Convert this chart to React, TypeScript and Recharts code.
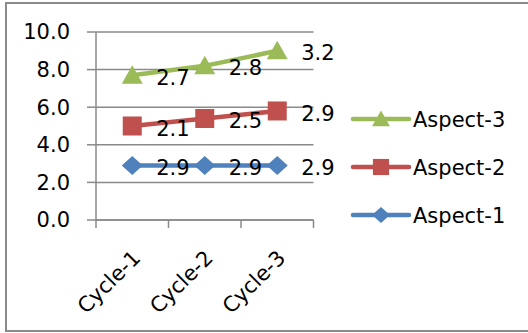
import React from 'react';
import { LineChart, Line, XAxis, YAxis, CartesianGrid, LabelList, Legend } from 'recharts';

// Categories and per-series values (stacked line chart: each series sits on the ones below)
const cycles = ['Cycle-1', 'Cycle-2', 'Cycle-3'];
const aspect1 = [2.9, 2.9, 2.9];
const aspect2 = [2.1, 2.5, 2.9];
const aspect3 = [2.7, 2.8, 3.2];
const yTicks = [0, 2, 4, 6, 8, 10];
const xBoundaryTicks = [0, 1, 2, 3];

const BLUE = '#4F81BD';
const RED = '#C0504D';
const GREEN = '#9BBB59';
const GRID = '#8a8a8a';
const FONT = '"DejaVu Sans", sans-serif';
const FS = 21;

const W = 528;
const H = 333;
const MARGIN = { top: 32, right: 214.5, bottom: 0, left: 0 };
const Y_AXIS_W = 96;
const X_AXIS_H = 113;
const PLOT_W = W - MARGIN.left - MARGIN.right - Y_AXIS_W;
const BAND = PLOT_W / cycles.length;

// running totals for the stacked lines; x sits in the middle of each category band
const data = cycles.map((c, i) => ({
  pos: i + 0.5,
  cycle: c,
  s1: aspect1[i],
  s2: aspect1[i] + aspect2[i],
  s3: aspect1[i] + aspect2[i] + aspect3[i],
}));

type ShapeKind = 'diamond' | 'square' | 'triangle';

function Marker({ kind, cx, cy, color, scale = 1 }: { kind: ShapeKind; cx: number; cy: number; color: string; scale?: number }) {
  if (cx == null || cy == null) return null;
  if (kind === 'diamond') {
    const hw = 10.5 * scale, hh = 9.5 * scale;
    return <polygon points={`${cx},${cy - hh} ${cx + hw},${cy} ${cx},${cy + hh} ${cx - hw},${cy}`} fill={color} />;
  }
  if (kind === 'square') {
    const h = 9.5 * scale;
    return <rect x={cx - h} y={cy - h} width={2 * h} height={2 * h} fill={color} />;
  }
  const hw = 10.5 * scale;
  return <polygon points={`${cx},${cy - 10 * scale} ${cx + hw},${cy + 8.5 * scale} ${cx - hw},${cy + 8.5 * scale}`} fill={color} />;
}

const makeDot = (kind: ShapeKind, color: string) => (props: any) => (
  <Marker key={`${kind}-${props.index}`} kind={kind} cx={props.cx} cy={props.cy} color={color} />
);

// labels show each series' own value, to the right of its point
const makeLabel = (values: number[]) => (props: any) => {
  const { x, y, index } = props;
  return (
    <text
      key={`lbl-${index}`}
      x={x + 24}
      y={y + 2}
      dy="0.36em"
      fontFamily={FONT}
      fontSize={FS}
      fill="#000"
      textAnchor="start"
    >
      {values[index].toFixed(1)}
    </text>
  );
};

const XTick = (props: any) => {
  const { x, y, payload } = props;
  const i = payload.value as number;
  if (i >= cycles.length) return null;
  const cx = x + BAND / 2 + 4;
  const cy = y + 24;
  return (
    <text
      x={cx}
      y={cy}
      dy="0.36em"
      textAnchor="end"
      transform={`rotate(-45, ${cx}, ${cy})`}
      fontFamily={FONT}
      fontSize={FS}
      fill="#000"
    >
      {cycles[i]}
    </text>
  );
};

const legendItems: { name: string; kind: ShapeKind; color: string }[] = [
  { name: 'Aspect-3', kind: 'triangle', color: GREEN },
  { name: 'Aspect-2', kind: 'square', color: RED },
  { name: 'Aspect-1', kind: 'diamond', color: BLUE },
];

const LegendContent = () => (
  <svg width={180} height={150} style={{ display: 'block' }}>
    {legendItems.map((it, k) => {
      const cy = 19 + k * 48;
      return (
        <g key={it.name}>
          <line x1={3} y1={cy} x2={59} y2={cy} stroke={it.color} strokeWidth={4.5} strokeLinecap="round" />
          <Marker kind={it.kind} cx={31} cy={cy} color={it.color} scale={0.85} />
          <text x={63} y={cy} dy="0.36em" fontFamily={FONT} fontSize={FS} fill="#000">
            {it.name}
          </text>
        </g>
      );
    })}
  </svg>
);

export default function App() {
  return (
    <div style={{ position: 'absolute', left: 0, top: 0, width: W, height: H, overflow: 'hidden', background: '#fff' }}>
      <div
        style={{
          position: 'absolute',
          left: 5,
          top: 2,
          width: 540,
          height: 330,
          boxSizing: 'border-box',
          border: `2px solid ${GRID}`,
        }}
      />
      <div style={{ position: 'absolute', left: 0, top: 0 }}>
        <LineChart width={W} height={H} data={data} margin={MARGIN}>
          <CartesianGrid horizontal vertical={false} stroke={GRID} strokeWidth={1.5} />
          <XAxis
            dataKey="pos"
            type="number"
            domain={[0, cycles.length]}
            ticks={xBoundaryTicks}
            interval={0}
            height={X_AXIS_H}
            axisLine={{ stroke: GRID, strokeWidth: 1.5 }}
            tickLine={{ stroke: GRID, strokeWidth: 1.5 }}
            tickSize={8}
            tick={<XTick />}
          />
          <YAxis
            domain={[0, 10]}
            ticks={yTicks}
            interval={0}
            width={Y_AXIS_W}
            axisLine={{ stroke: GRID, strokeWidth: 1.5 }}
            tickLine={{ stroke: GRID, strokeWidth: 1.5 }}
            tickSize={9}
            tickMargin={17}
            tickFormatter={(v: number) => v.toFixed(1)}
            tick={{ fontFamily: FONT, fontSize: FS, fill: '#000' }}
          />
          <Legend
            layout="vertical"
            align="center"
            verticalAlign="middle"
            wrapperStyle={{ left: 350, top: 100, width: 180 }}
            content={<LegendContent />}
          />
          <Line
            name="Aspect-1"
            dataKey="s1"
            stroke={BLUE}
            strokeWidth={4.5}
            dot={makeDot('diamond', BLUE)}
            activeDot={false}
            isAnimationActive={false}
          >
            <LabelList dataKey="s1" content={makeLabel(aspect1)} />
          </Line>
          <Line
            name="Aspect-2"
            dataKey="s2"
            stroke={RED}
            strokeWidth={4.5}
            dot={makeDot('square', RED)}
            activeDot={false}
            isAnimationActive={false}
          >
            <LabelList dataKey="s2" content={makeLabel(aspect2)} />
          </Line>
          <Line
            name="Aspect-3"
            dataKey="s3"
            stroke={GREEN}
            strokeWidth={4.5}
            dot={makeDot('triangle', GREEN)}
            activeDot={false}
            isAnimationActive={false}
          >
            <LabelList dataKey="s3" content={makeLabel(aspect3)} />
          </Line>
        </LineChart>
      </div>
    </div>
  );
}
